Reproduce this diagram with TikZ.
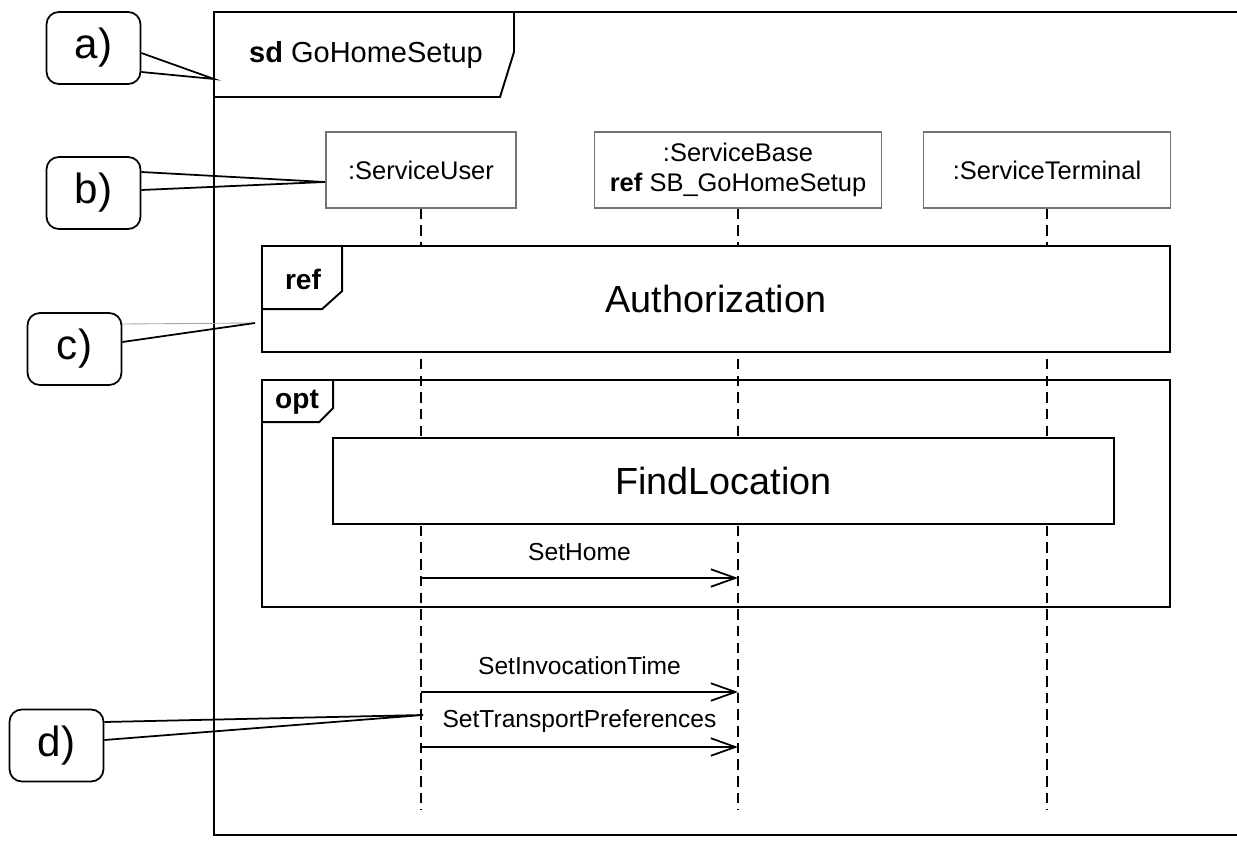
\documentclass[tikz,border=0pt]{standalone}
\usepackage{fontspec}
\setmainfont{Liberation Sans}
\usetikzlibrary{arrows.meta,calc}

\begin{document}
\begin{tikzpicture}[x=0.02cm, y=-0.02cm]
  \useasboundingbox (0,0) rectangle (1237,841);
  \tikzstyle{frame}=[draw, line width=1.1pt]
  \tikzstyle{lifebox}=[draw=black!55, line width=0.7pt, fill=white, minimum height=1.52cm, inner sep=2pt, font=\fontsize{14.5}{17}\selectfont]
  \tikzstyle{lifeline}=[line width=1pt, dash pattern=on 6pt off 3.5pt]
  \tikzstyle{refbox}=[draw, line width=1.1pt, fill=white, font=\fontsize{21.5}{25}\selectfont]
  \tikzstyle{tag}=[font=\fontsize{16}{19}\selectfont\bfseries]
  \tikzstyle{callout}=[draw, line width=1pt, rounded corners=7pt, minimum width=1.88cm, minimum height=1.44cm, font=\fontsize{24}{28}\selectfont]
  \tikzstyle{pointer}=[line width=1pt]
  \tikzstyle{msg}=[line width=1pt, -{Straight Barb[length=14pt, width=10pt]}]
  \tikzstyle{msglabel}=[font=\fontsize{14}{17}\selectfont, yshift=15pt]

  % sd frame
  \draw[frame] (1240,12) -- (214,12) -- (214,835) -- (1240,835);
  \draw[frame] (214,97) -- (500,97) -- (514,52) -- (514,12);
  \node[anchor=west, font=\fontsize{16.5}{20}\selectfont] (sd) at (243,55) {\textbf{sd} GoHomeSetup};

  % lifelines
  \node[lifebox, minimum width=3.8cm]  (su) at (421,170) {:ServiceUser};
  \node[lifebox, minimum width=5.74cm, align=center] (sb) at (738,170) {:ServiceBase\\\textbf{ref} SB\_GoHomeSetup};
  \node[lifebox, minimum width=4.94cm] (st) at (1047,170) {:ServiceTerminal};
  \coordinate (suend) at (421,810);
  \coordinate (sbend) at (738,810);
  \coordinate (stend) at (1047,810);
  \draw[lifeline] (su) -- (suend);
  \draw[lifeline] (sb) -- (sbend);
  \draw[lifeline] (st) -- (stend);

  % ref Authorization
  \node[refbox, minimum width=18.16cm, minimum height=2.12cm] (auth) at (716,299) {Authorization};
  \draw[frame] ($(auth.north west)+(0,64)$) -- ++(61,0) -- ++(20,-18) -- ++(0,-46);
  \node[tag] (reftag) at (303,279) {ref};

  % opt
  \node[frame, minimum width=18.16cm, minimum height=4.54cm] (opt) at (716,493.5) {};
  \draw[frame] ($(opt.north west)+(0,43)$) -- ++(58,0) -- ++(14,-14) -- ++(0,-29);
  \node[tag] (opttag) at (297,402) {opt};
  \node[refbox, minimum width=15.62cm, minimum height=1.72cm] (find) at (723.5,481) {FindLocation};

  % messages
  \coordinate (h1) at (421,578);
  \coordinate (h2) at (738,578);
  \coordinate (t1) at (421,692);
  \coordinate (t2) at (738,692);
  \coordinate (p1) at (421,747);
  \coordinate (p2) at (738,747);
  \draw[msg] (h1) -- node[msglabel] (lhome) {SetHome} (h2);
  \draw[msg] (t1) -- node[msglabel] (ltime) {SetInvocationTime} (t2);
  \draw[msg] (p1) -- node[msglabel] (lpref) {SetTransportPreferences} (p2);

  % callouts
  \node[callout] (ca) at (93.5,48)    {a)};
  \node[callout] (cb) at (93.5,193)   {b)};
  \node[callout] (cc) at (74.5,349)   {c)};
  \node[callout] (cd) at (56.5,745.5) {d)};
  \coordinate (pa) at (214,79);
  \coordinate (pb) at (325,182);
  \coordinate (pc) at (255,323);
  \coordinate (pd) at (423,715);
  \draw[pointer] ($(ca.east)+(0,5)$) -- (pa) -- ($(ca.east)+(0,24)$);
  \draw[pointer] ($(cb.east)+(0,-21)$) -- (pb) -- ($(cb.east)+(0,-3)$);
  \draw[pointer, draw=black!35, line width=0.5pt] ($(cc.east)+(0,-25)$) -- (pc);
  \draw[pointer] (pc) -- ($(cc.east)+(0,-7)$);
  \draw[pointer] ($(cd.east)+(0,-23.5)$) -- (pd) -- ($(cd.east)+(0,-5.5)$);
\end{tikzpicture}
\end{document}
